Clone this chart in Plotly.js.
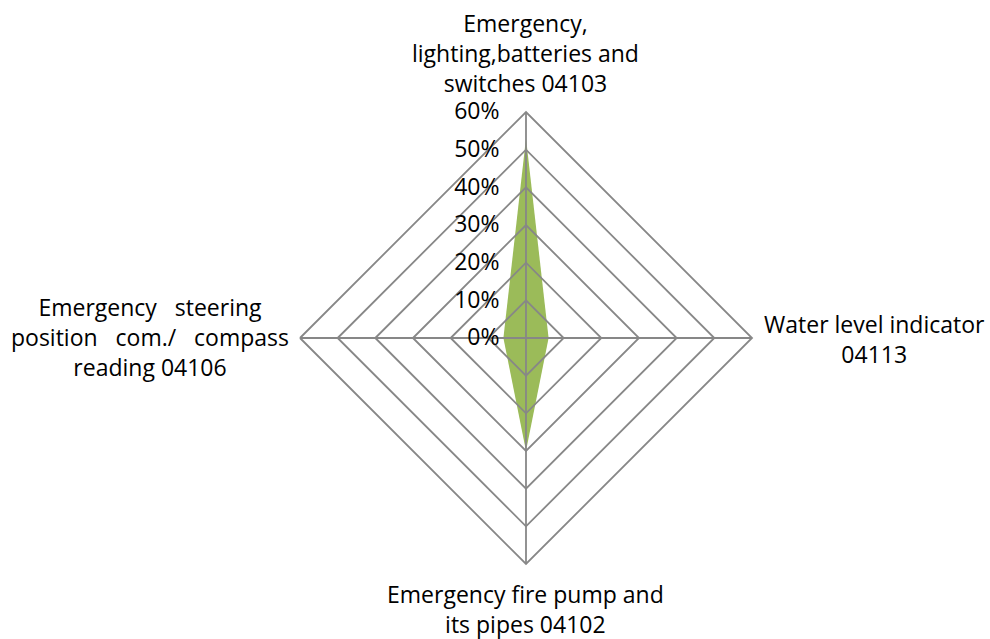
<!DOCTYPE html>
<html>
<head>
<meta charset="utf-8">
<script src="https://cdn.plot.ly/plotly-3.0.1.min.js"></script>
<style>
  html, body { margin: 0; padding: 0; background: #ffffff; }
  #chart { width: 990px; height: 639px; }
</style>
</head>
<body>
<div id="chart"></div>
<script>
// Inspection items, clockwise from the top spoke
const categories = [
  'Emergency, lighting,batteries and switches 04103',
  'Water level indicator 04113',
  'Emergency fire pump and its pipes 04102',
  'Emergency steering position com./ compass reading 04106'
];
// Share of findings per item (%)
const values = [53, 6, 30, 6];

// Label text shown at the end of each spoke
const NB = '\u00a0';
const categoryLabels = [
  'Emergency,<br>lighting,batteries and<br>switches 04103',
  'Water level indicator<br>04113',
  'Emergency fire pump and<br>its pipes 04102',
  'Emergency' + NB + NB + ' steering<br>position' + NB + NB + NB + 'com./' + NB + NB + ' compass<br>reading 04106'
];
const radialTicks = [0, 10, 20, 30, 40, 50, 60];

const FONT = 'Open Sans, Noto Sans, DejaVu Sans, sans-serif';
const GRID = '#878787';

const W = 990, H = 639;
const cx = 526, cy = 338, R = 226;
const domain = {
  x: [(cx - R) / W, (cx + R) / W],
  y: [(H - cy - R) / H, (H - cy + R) / H]
};

const fillTrace = {
  type: 'scatterpolar',
  subplot: 'polar',
  r: values,
  theta: categories,
  mode: 'none',
  fill: 'toself',
  fillcolor: '#9BBB59',
  hoverinfo: 'skip',
  showlegend: false
};

// Same series on a transparent overlay so the grid sits on top of the fill
const gridTrace = {
  type: 'scatterpolar',
  subplot: 'polar2',
  r: values,
  theta: categories,
  mode: 'lines',
  line: { width: 0, color: 'rgba(0,0,0,0)' },
  opacity: 0,
  hoverinfo: 'skip',
  showlegend: false
};

const hiddenRadial = { range: [0, 60], showgrid: false, showline: false, showticklabels: false, ticks: '' };
const hiddenAngular = { direction: 'clockwise', rotation: 90, showgrid: false, showline: false, showticklabels: false, ticks: '' };

const labelPos = [
  { x: 525, y: 53 },
  { x: 874, y: 339 },
  { x: 525, y: 609 },
  { x: 150, y: 337 }
];

const annotations = categoryLabels.map((t, i) => ({
  text: t,
  xref: 'paper', yref: 'paper',
  x: labelPos[i].x / W,
  y: (H - labelPos[i].y) / H,
  xanchor: 'center', yanchor: 'middle',
  align: 'center',
  showarrow: false,
  font: { family: FONT, size: 23, color: '#000000' }
}));

const layout = {
  width: W, height: H,
  margin: { l: 0, r: 0, t: 0, b: 0 },
  paper_bgcolor: '#ffffff',
  showlegend: false,
  polar: {
    domain: domain,
    bgcolor: 'rgba(0,0,0,0)',
    gridshape: 'linear',
    radialaxis: hiddenRadial,
    angularaxis: hiddenAngular
  },
  polar2: {
    domain: domain,
    bgcolor: 'rgba(0,0,0,0)',
    gridshape: 'linear',
    radialaxis: {
      range: [0, 60],
      angle: 90,
      side: 'counterclockwise',
      tickmode: 'array',
      tickvals: radialTicks,
      ticktext: radialTicks.map(v => v + '%'),
      tickangle: 90,
      showline: false,
      showgrid: true,
      gridcolor: GRID,
      gridwidth: 1.8,
      ticks: 'outside',
      ticklen: 18,
      tickcolor: 'rgba(0,0,0,0)',
      tickfont: { family: FONT, size: 23, color: '#000000' }
    },
    angularaxis: {
      direction: 'clockwise',
      rotation: 90,
      showline: true,
      linecolor: GRID,
      linewidth: 1.8,
      showgrid: true,
      gridcolor: GRID,
      gridwidth: 1.8,
      showticklabels: false,
      ticks: ''
    }
  },
  annotations: annotations
};

Plotly.newPlot('chart', [fillTrace, gridTrace], layout, { staticPlot: true, displayModeBar: false });
</script>
</body>
</html>
